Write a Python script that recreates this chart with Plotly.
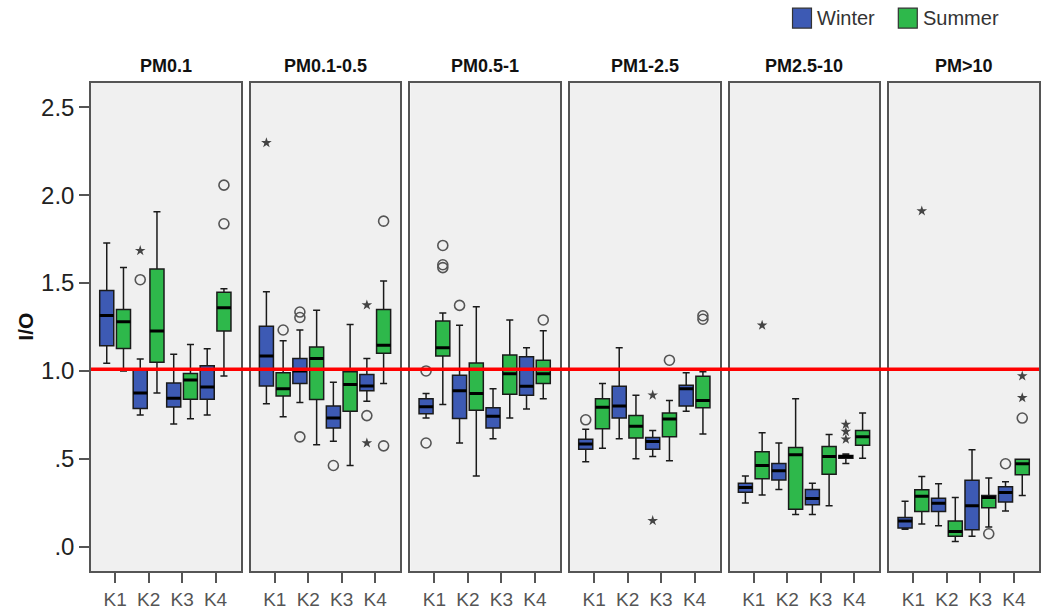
import plotly.graph_objects as go
from plotly.subplots import make_subplots

panels = ["PM0.1", "PM0.1-0.5", "PM0.5-1", "PM1-2.5", "PM2.5-10", "PM>10"]
categories = ["K1", "K2", "K3", "K4"]
ytick_vals = [0, 0.5, 1.0, 1.5, 2.0, 2.5]
ytick_text = [".0", ".5", "1.0", "1.5", "2.0", "2.5"]
reference_level = 1.01

# Winter box statistics: one list of K1..K4 per panel
winter_lower = [[1.044, 0.75, 0.698, 0.75], [0.813, 0.821, 0.60, 0.828], [0.732, 0.59, 0.615, 0.783],
                [0.483, 0.615, 0.513, 0.771], [0.249, 0.325, 0.183, 0.473], [0.10, 0.12, 0.059, 0.204]]
winter_q1 = [[1.143, 0.786, 0.795, 0.839], [0.915, 0.929, 0.675, 0.888], [0.757, 0.73, 0.675, 0.862],
             [0.554, 0.732, 0.554, 0.801], [0.31, 0.379, 0.239, 0.503], [0.106, 0.20, 0.096, 0.254]]
winter_median = [[1.316, 0.874, 0.845, 0.909], [1.085, 1.0, 0.732, 0.915], [0.797, 0.888, 0.742, 0.913],
                 [0.584, 0.801, 0.598, 0.899], [0.337, 0.432, 0.274, 0.513], [0.146, 0.248, 0.233, 0.309]]
winter_q3 = [[1.457, 1.01, 0.932, 1.029], [1.254, 1.071, 0.801, 0.98], [0.842, 0.976, 0.791, 1.081],
             [0.611, 0.913, 0.621, 0.919], [0.361, 0.473, 0.325, 0.519], [0.167, 0.276, 0.378, 0.341]]
winter_upper = [[1.728, 1.068, 1.095, 1.126], [1.45, 1.233, 0.935, 1.071], [0.872, 1.26, 0.899, 1.132],
                [0.669, 1.132, 0.661, 0.99], [0.402, 0.59, 0.361, 0.527], [0.259, 0.359, 0.552, 0.369]]

# Summer box statistics
summer_lower = [[1.0, 0.874, 0.728, 0.971], [0.74, 0.58, 0.462, 0.929], [0.809, 0.402, 0.732, 0.842],
                [0.56, 0.501, 0.489, 0.641], [0.294, 0.183, 0.233, 0.503], [0.13, 0.03, 0.113, 0.291]]
summer_q1 = [[1.128, 1.05, 0.839, 1.227], [0.858, 0.838, 0.771, 1.101], [1.085, 0.777, 0.868, 0.929],
             [0.671, 0.619, 0.625, 0.791], [0.387, 0.213, 0.412, 0.578], [0.20, 0.059, 0.222, 0.41]]
summer_median = [[1.28, 1.227, 0.949, 1.36], [0.899, 1.071, 0.923, 1.146], [1.132, 0.872, 0.984, 0.984],
                 [0.793, 0.686, 0.726, 0.832], [0.462, 0.523, 0.513, 0.625], [0.287, 0.087, 0.28, 0.472]]
summer_q3 = [[1.349, 1.58, 0.985, 1.448], [0.99, 1.136, 0.996, 1.349], [1.284, 1.045, 1.091, 1.061],
             [0.842, 0.746, 0.761, 0.97], [0.54, 0.564, 0.57, 0.661], [0.324, 0.146, 0.291, 0.498]]
summer_upper = [[1.589, 1.905, 1.15, 1.468], [1.172, 1.345, 1.264, 1.511], [1.329, 1.365, 1.29, 1.229],
                [0.929, 0.862, 0.832, 0.996], [0.649, 0.842, 0.639, 0.761], [0.40, 0.28, 0.391, 0.498]]

# Outliers: (panel index, category index, value)
winter_circles = [(0, 1, 1.519), (1, 1, 1.335), (1, 1, 1.304), (1, 1, 0.625), (1, 2, 0.462), (1, 3, 0.746),
                  (2, 0, 1.0), (2, 0, 0.59), (2, 1, 1.373), (3, 0, 0.722), (5, 3, 0.472)]
winter_stars = [(0, 1, 1.684), (1, 0, 2.298), (1, 3, 1.375), (1, 3, 0.59), (3, 2, 0.862), (3, 2, 0.148),
                (4, 3, 0.696), (4, 3, 0.655), (4, 3, 0.611)]
summer_circles = [(0, 3, 2.057), (0, 3, 1.837), (1, 0, 1.233), (1, 3, 1.852), (1, 3, 0.574),
                  (2, 0, 1.714), (2, 0, 1.604), (2, 0, 1.588), (2, 3, 1.29), (3, 2, 1.061), (3, 3, 1.314),
                  (3, 3, 1.294), (5, 2, 0.074), (5, 3, 0.732)]
summer_stars = [(4, 0, 1.26), (5, 0, 1.91), (5, 3, 0.971), (5, 3, 0.847)]

legend_names = ["Winter", "Summer"]

WINTER = "#3D5AB4"
SUMMER = "#2EB84B"
FRAME = "#555555"
FONT = "Arial, Liberation Sans, sans-serif"
OFFSET = 0.25
BOX_W = 0.42

fig = make_subplots(rows=1, cols=6, shared_yaxes=True, horizontal_spacing=10 / 950,
                    subplot_titles=panels)

seasons = [
    (WINTER, -OFFSET, winter_lower, winter_q1, winter_median, winter_q3, winter_upper,
     winter_circles, winter_stars),
    (SUMMER, OFFSET, summer_lower, summer_q1, summer_median, summer_q3, summer_upper,
     summer_circles, summer_stars),
]

for p in range(len(panels)):
    col = p + 1
    for color, off, lo, q1, med, q3, up, circ, stars in seasons:
        xs = [i + off for i in range(len(categories))]
        fig.add_trace(go.Box(
            x=xs, q1=q1[p], median=med[p], q3=q3[p], lowerfence=lo[p], upperfence=up[p],
            width=BOX_W, whiskerwidth=0.5, fillcolor=color,
            line=dict(color="#1a1a1a", width=1.5), showlegend=False,
            hoverinfo="skip"), row=1, col=col)
        # thick median bars
        mx, my = [], []
        for i in range(len(categories)):
            mx += [xs[i] - BOX_W / 2, xs[i] + BOX_W / 2, None]
            my += [med[p][i], med[p][i], None]
        fig.add_trace(go.Scatter(x=mx, y=my, mode="lines", line=dict(color="#000000", width=3),
                                 showlegend=False, hoverinfo="skip"), row=1, col=col)
        cx = [c + off for (pp, c, v) in circ if pp == p]
        cy = [v for (pp, c, v) in circ if pp == p]
        if cx:
            fig.add_trace(go.Scatter(x=cx, y=cy, mode="markers",
                                     marker=dict(symbol="circle-open", size=10,
                                                 line=dict(color="#555555", width=1.6), color="#555555"),
                                     showlegend=False, hoverinfo="skip"), row=1, col=col)
        sx = [c + off for (pp, c, v) in stars if pp == p]
        sy = [v for (pp, c, v) in stars if pp == p]
        if sx:
            fig.add_trace(go.Scatter(x=sx, y=sy, mode="markers",
                                     marker=dict(symbol="star", size=8, color="#444444"),
                                     showlegend=False, hoverinfo="skip"), row=1, col=col)

for p in range(len(panels)):
    fig.update_xaxes(row=1, col=p + 1, range=[-0.72, 3.75], tickmode="array",
                     tickvals=list(range(len(categories))), ticktext=categories,
                     ticks="outside", ticklen=10, tickwidth=2, tickcolor=FRAME,
                     showline=True, mirror=True, linecolor=FRAME, linewidth=1.5,
                     showgrid=False, zeroline=False,
                     tickfont=dict(family=FONT, size=19, color="#555555"))
    fig.update_yaxes(row=1, col=p + 1, range=[-0.138, 2.638], tickmode="array",
                     tickvals=ytick_vals, ticktext=ytick_text,
                     showline=True, mirror=True, linecolor=FRAME, linewidth=1.5,
                     showgrid=False, zeroline=False,
                     ticks="outside" if p == 0 else "", ticklen=10, tickwidth=2, tickcolor=FRAME,
                     showticklabels=(p == 0),
                     tickfont=dict(family=FONT, size=24, color="#222222"))

for ann in fig.layout.annotations:
    ann.font = dict(family=FONT, size=18, color="#111111")
    ann.text = "<b>" + ann.text + "</b>"
    ann.yshift = 5

fig.add_annotation(text="<b>I/O</b>", xref="paper", yref="paper", x=-0.07, y=0.5,
                   textangle=-90, showarrow=False, xanchor="center", yanchor="middle",
                   font=dict(family=FONT, size=21, color="#111111"))

fig.add_shape(type="line", xref="paper", yref="y", x0=0, x1=1,
              y0=reference_level, y1=reference_level,
              line=dict(color="#FF0000", width=3.5))

# legend drawn as squares + labels
legend_colors = [WINTER, SUMMER]
legend_x0 = [0.740, 0.8516]
for name, color, lx in zip(legend_names, legend_colors, legend_x0):
    fig.add_shape(type="rect", xref="paper", yref="paper", x0=lx, x1=lx + 0.020,
                  y0=1.1125, y1=1.1534, fillcolor=color, line=dict(color="#333333", width=1.2))
    fig.add_annotation(text=name, xref="paper", yref="paper", x=lx + 0.0242, y=1.133,
                       xanchor="left", yanchor="middle", showarrow=False,
                       font=dict(family=FONT, size=20, color="#333333"))

fig.update_layout(
    width=1041, height=610,
    margin=dict(l=91, r=0, t=83, b=38),
    plot_bgcolor="#F0F0F0", paper_bgcolor="#FFFFFF",
    showlegend=False,
    font=dict(family=FONT),
)

fig.write_html("out.html", config={"displayModeBar": False},
               post_script="document.body.style.margin='0px';")
